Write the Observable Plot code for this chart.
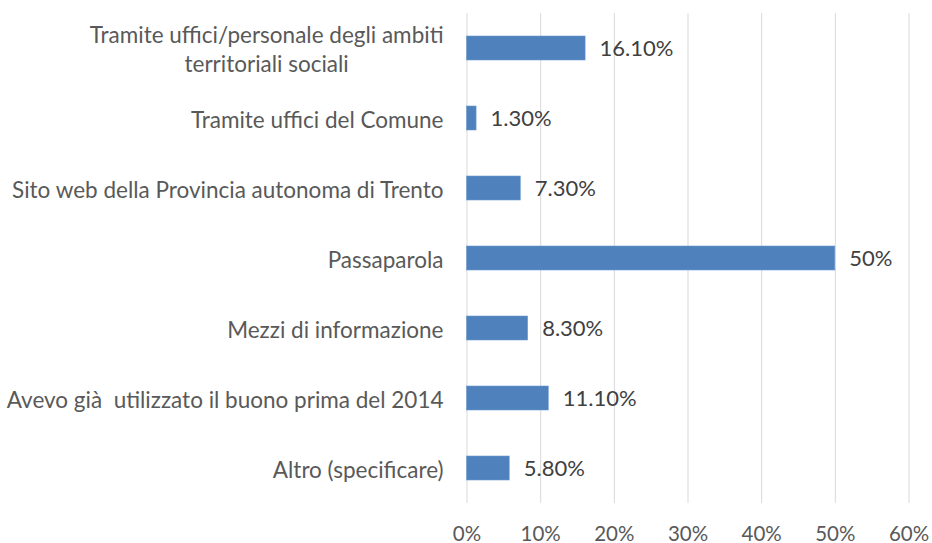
<!DOCTYPE html>
<html>
<head>
<meta charset="utf-8">
<script src="https://cdn.jsdelivr.net/npm/d3@7"></script>
<script src="https://cdn.jsdelivr.net/npm/@observablehq/plot@0.6"></script>
<style>
  html, body { margin: 0; padding: 0; background: #fff; }
  #chart svg { display: block; }
</style>
</head>
<body>
<div id="chart"></div>
<script>
const categories = [
  "Tramite uffici/personale degli ambiti\nterritoriali sociali",
  "Tramite uffici del Comune",
  "Sito web della Provincia autonoma di Trento",
  "Passaparola",
  "Mezzi di informazione",
  "Avevo già  utilizzato il buono prima del 2014",
  "Altro (specificare)"
];
const values = [16.1, 1.3, 7.3, 50, 8.3, 11.1, 5.8];
const valueLabels = ["16.10%", "1.30%", "7.30%", "50%", "8.30%", "11.10%", "5.80%"];
const xTicks = [0, 10, 20, 30, 40, 50, 60];

const data = categories.map((c, i) => ({ cat: c, value: values[i], label: valueLabels[i] }));
const FONT = "Lato, sans-serif";
const FS = 22.5;
const FS_VAL = 22;
const FS_TICK = 20.5;

const chart = Plot.plot({
  width: 932,
  height: 543,
  marginTop: 13,
  marginBottom: 40,
  marginLeft: 466.5,
  marginRight: 23.5,
  style: { fontFamily: FONT, fontSize: FS + "px", background: "#fff", overflow: "visible" },
  x: { domain: [0, 60], ticks: xTicks, label: null },
  y: { domain: categories, paddingInner: 0.657, paddingOuter: 0.3285, label: null },
  marks: [
    Plot.gridX(xTicks, { stroke: "#d9d9d9", strokeOpacity: 1, strokeWidth: 1 }),
    Plot.axisX({ ticks: xTicks, tickSize: 0, tickPadding: 22.5, tickFormat: d => d + "%", fill: "#595959", fontSize: FS_TICK, label: null }),
    Plot.axisY({ tickSize: 0, tickPadding: 23.5, fill: "#595959", fontSize: FS, lineHeight: 1.25, label: null, textOverflow: null }),
    Plot.barX(data, { x: "value", y: "cat", fill: "#4f81bd", stroke: "#6f9bd1", strokeWidth: 0.6 }),
    Plot.text(data, { x: "value", y: "cat", text: "label", dx: 14, textAnchor: "start", fill: "#404040", fontSize: FS_VAL })
  ]
});

document.getElementById("chart").appendChild(chart);

// center the lines of wrapped y-axis labels, keeping the block right-aligned
d3.select(chart).selectAll("g[aria-label='y-axis tick label'] text").each(function () {
  const tspans = this.querySelectorAll("tspan");
  if (tspans.length < 2) return;
  const bb = this.getBBox();
  const right = bb.x + bb.width;
  let maxW = 0;
  tspans.forEach(t => { maxW = Math.max(maxW, t.getComputedTextLength()); });
  const center = right - maxW / 2;
  this.setAttribute("text-anchor", "middle");
  tspans.forEach(t => t.setAttribute("x", center));
});
</script>
</body>
</html>
